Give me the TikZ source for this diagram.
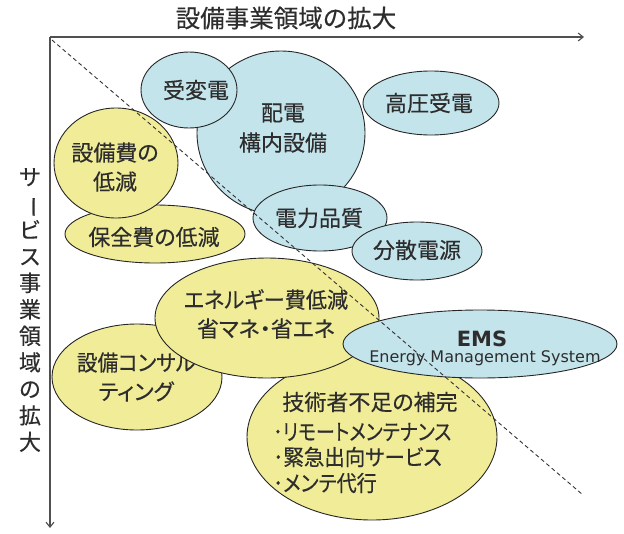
\documentclass[tikz,border=0pt]{standalone}
\usepackage{fontspec}
\setmainfont[RawFeature=+palt,FakeBold=0.35]{Noto Sans CJK JP}
\newfontfamily\plainjp[FakeBold=0.35]{Noto Sans CJK JP}
\newfontfamily\latinfont{DejaVu Sans}
\usetikzlibrary{shapes.geometric,arrows.meta}
\definecolor{cblue}{RGB}{196,228,236}
\definecolor{cyel}{RGB}{240,236,152}
\definecolor{ctext}{RGB}{45,45,45}
\definecolor{caxis}{RGB}{80,80,80}
\begin{document}
\begin{tikzpicture}[x=1pt,y=-1pt,
  bub/.style={ellipse,draw=black!85,line width=0.9pt,inner sep=0pt},
  bluebub/.style={bub,fill=cblue},
  yelbub/.style={bub,fill=cyel},
  jtext/.style={inner sep=0pt,text=ctext,font=\fontsize{22}{25}\selectfont},
  axisline/.style={draw=caxis,line width=1.1pt,-{Straight Barb[length=5pt,width=8pt]}},
  diag/.style={draw=black!80,line width=0.9pt,dash pattern=on 4pt off 3pt}]
\useasboundingbox (0,0) rectangle (624,533);
% titles
\node[jtext,font=\plainjp\fontsize{24.5}{26}\selectfont] (xtitle) at (286,18) {設備事業領域の拡大};
\node[jtext,align=center,font=\plainjp\fontsize{22}{26.5}\selectfont] (ytitle) at (30,310)
  {サ\\\rotatebox[origin=c]{-90}{ー}\\ビ\\ス\\事\\業\\領\\域\\の\\拡\\大};
% blue group
\node[bluebub,minimum width=168pt,minimum height=164pt] (haiden) at (281,133) {};
\node[jtext,align=center,font=\fontsize{22}{30}\selectfont] (haidenT) at (283,128) {配電\\構内設備};
\node[bluebub,minimum width=96pt,minimum height=76pt] (juhen) at (189,90) {};
\node[jtext] (juhenT) at (196,90) {受変電};
\node[bluebub,minimum width=136pt,minimum height=64pt] (koatsu) at (431,103) {};
\node[jtext] (koatsuT) at (429,103) {高圧受電};
\node[bluebub,minimum width=134pt,minimum height=66pt] (denryoku) at (320,218) {};
\node[jtext] (denryokuT) at (319,218) {電力品質};
\node[bluebub,minimum width=130pt,minimum height=58pt] (bunsan) at (417,251) {};
\node[jtext] (bunsanT) at (417,250) {分散電源};
% yellow upper group
\node[yelbub,minimum width=180pt,minimum height=58pt] (hozen) at (155,234) {};
\node[jtext] (hozenT) at (154,237) {保全費の低減};
\node[yelbub,minimum width=124pt,minimum height=110pt] (setsubihi) at (116,163) {};
\node[jtext,align=center,font=\fontsize{22}{29}\selectfont] (setsubihiT) at (115,167) {設備費の\\低減};
% lower group
\node[yelbub,minimum width=170pt,minimum height=106pt] (consul) at (137,377) {};
\node[jtext,align=center,font=\fontsize{22}{29}\selectfont] (consulT) at (136,377) {\scalebox{0.94}[1]{設備コンサル}\\ティング};
\node[yelbub,minimum width=250pt,minimum height=166pt] (gijutsu) at (372,437) {};
\node[jtext] (gijutsuT) at (370,402) {技術者不足の補完};
\node[jtext,anchor=west] (b1) at (273,432) {\scalebox{0.86}[1]{･リモートメンテナンス}};
\node[jtext,anchor=west] (b2) at (273,457) {\scalebox{0.93}[1]{･緊急出向サービス}};
\node[jtext,anchor=west] (b3) at (273,483) {\scalebox{0.91}[1]{･メンテ代行}};
\node[yelbub,minimum width=224pt,minimum height=120pt] (energy) at (267,318) {};
\node[jtext,align=center,font=\fontsize{22}{29}\selectfont] (energyT) at (266,314) {\scalebox{0.96}[1]{エネルギー費低減}\\省マネ・省エネ};
\node[bluebub,minimum width=274pt,minimum height=68pt] (ems) at (480,344) {};
\node[inner sep=0pt,text=ctext,font=\latinfont\bfseries\fontsize{21}{22}\selectfont] (emsT) at (482,339) {EMS};
\node[inner sep=0pt,text=ctext,font=\latinfont\fontsize{16}{18}\selectfont] (emsS) at (485,358) {Energy Management System};
% dashed diagonal
\coordinate (dstart) at (52,40);
\coordinate (dend) at (583,495);
\draw[diag] (dstart) -- (dend);
% axes
\coordinate (origin) at (50,37);
\coordinate (xend) at (584,37);
\coordinate (yend) at (50,528);
\draw[axisline] (origin) -- (xend);
\draw[axisline] (origin) -- (yend);
\end{tikzpicture}
\end{document}
